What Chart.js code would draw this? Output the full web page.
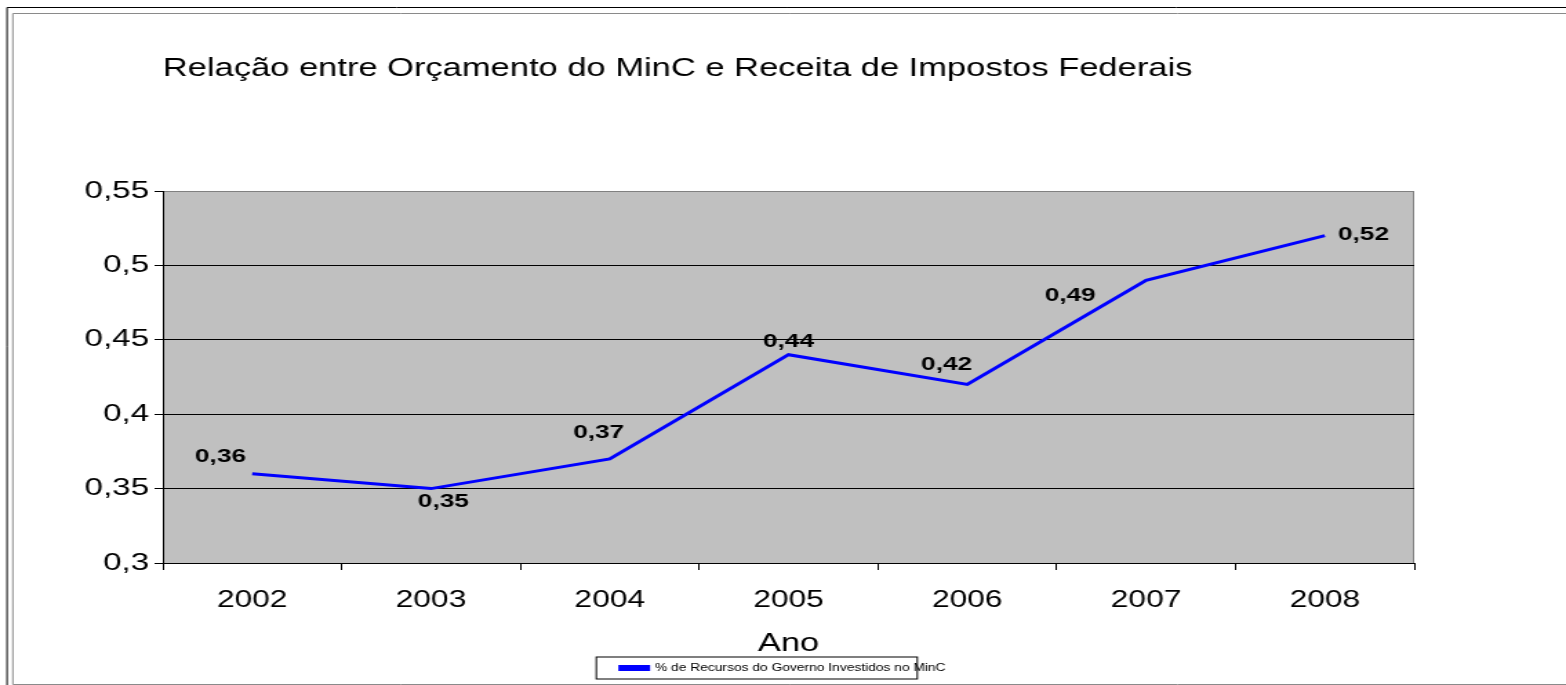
<!DOCTYPE html>
<html>
<head>
<meta charset="utf-8">
<script src="https://cdn.jsdelivr.net/npm/chart.js@4.4.1/dist/chart.umd.min.js"></script>
<style>
  html, body { margin: 0; padding: 0; background: #fff; overflow: hidden; }
</style>
</head>
<body>
<!-- the original picture is stretched sideways, so the canvas is too -->
<canvas id="chart" width="1135" height="685" style="display:block;width:1566px;height:685px"></canvas>
<script>
const years = ["2002", "2003", "2004", "2005", "2006", "2007", "2008"];
const percentMinC = [0.36, 0.35, 0.37, 0.44, 0.42, 0.49, 0.52];
const yTickLabels = ["0,3", "0,35", "0,4", "0,45", "0,5", "0,55"];
const seriesName = "% de Recursos do Governo Investidos no MinC";

// where each value label sits relative to its point
const labelOffsets = [[-23, -17], [9, 13], [-8, -26], [0, -13], [-15, -20], [-55, 15], [28, -1]];

Chart.defaults.font.family = "'Liberation Sans', Arial, sans-serif";
Chart.defaults.color = "#000";

const framePlugin = {
  id: "frame",
  beforeDraw(chart) {
    const ctx = chart.ctx;
    const a = chart.chartArea;
    ctx.save();
    ctx.fillStyle = "#fff";
    ctx.fillRect(0, 0, chart.width, chart.height);
    // double border round the chart
    ctx.lineWidth = 1;
    ctx.strokeStyle = "#000";
    ctx.beginPath();
    ctx.moveTo(5.1, chart.height);
    ctx.lineTo(5.1, 7.5);
    ctx.lineTo(chart.width, 7.5);
    ctx.stroke();
    ctx.strokeStyle = "#8a8a8a";
    ctx.beginPath();
    ctx.moveTo(chart.width, 13.5);
    ctx.lineTo(9.3, 13.5);
    ctx.lineTo(9.3, 684.5);
    ctx.lineTo(chart.width, 684.5);
    ctx.stroke();
    // grey plot area
    ctx.fillStyle = "#c0c0c0";
    ctx.fillRect(a.left, a.top, a.right - a.left, a.bottom - a.top);
    ctx.strokeStyle = "#808080";
    ctx.beginPath();
    ctx.moveTo(a.right - 0.5, a.top);
    ctx.lineTo(a.right - 0.5, a.bottom);
    ctx.stroke();
    ctx.restore();
  },
  afterDraw(chart) {
    // box round the legend, offset like in the original
    const hb = chart.legend.legendHitBoxes[0];
    if (!hb) return;
    const ctx = chart.ctx;
    const cy = hb.top + hb.height / 2;
    ctx.save();
    ctx.strokeStyle = "#000";
    ctx.lineWidth = 1;
    ctx.strokeRect(hb.left - 17.5, cy - 11, hb.width - 3, 22);
    ctx.restore();
  }
};

const valueLabels = {
  id: "valueLabels",
  afterDatasetsDraw(chart) {
    const ctx = chart.ctx;
    const meta = chart.getDatasetMeta(0);
    ctx.save();
    ctx.font = "bold 19px 'Liberation Sans', Arial, sans-serif";
    ctx.fillStyle = "#000";
    ctx.textAlign = "center";
    ctx.textBaseline = "middle";
    meta.data.forEach((pt, i) => {
      const txt = percentMinC[i].toFixed(2).replace(".", ",");
      ctx.fillText(txt, pt.x + labelOffsets[i][0], pt.y + labelOffsets[i][1]);
    });
    ctx.restore();
  }
};

new Chart(document.getElementById("chart"), {
  type: "line",
  data: {
    labels: years,
    datasets: [
      {
        label: seriesName,
        data: percentMinC,
        borderColor: "#0000ff",
        backgroundColor: "#0000ff",
        borderWidth: 3,
        pointRadius: 0,
        tension: 0,
      },
    ],
  },
  options: {
    responsive: false,
    animation: false,
    devicePixelRatio: 1,
    layout: { padding: { top: 10, left: 10, right: 10, bottom: 2 } },
    plugins: {
      title: {
        display: true,
        text: "Relação entre Orçamento do MinC e Receita de Impostos Federais",
        align: "start",
        fullSize: false,
        font: { size: 25, weight: "normal" },
        color: "#000",
        padding: { top: 44, bottom: 107 },
      },
      legend: {
        display: true,
        position: "bottom",
        labels: {
          font: { size: 10 },
          boxWidth: 20,
          boxHeight: 3,
          padding: 6,
          color: "#000",
        },
      },
      tooltip: { enabled: false },
    },
    scales: {
      x: {
        offset: true,
        afterFit(scale) {
          scale.height = 94;
        },
        grid: {
          offset: true,
          drawOnChartArea: false,
          drawTicks: true,
          tickLength: 7,
          color: "#000",
          tickColor: "#000",
        },
        border: { color: "#000", width: 1 },
        ticks: { font: { size: 23 }, color: "#000", padding: 17 },
        title: {
          display: true,
          text: "Ano",
          font: { size: 25, lineHeight: 1.05 },
          color: "#000",
          padding: { top: 0, bottom: 0 },
        },
      },
      y: {
        min: 0.3,
        max: 0.55,
        afterFit(scale) {
          scale.width = 108;
        },
        ticks: {
          stepSize: 0.05,
          font: { size: 24 },
          color: "#000",
          padding: 4,
          callback: (v, i) => yTickLabels[i],
        },
        grid: {
          color: (c) => (c.index === yTickLabels.length - 1 ? "#808080" : "#000"),
          tickColor: "#000",
          tickLength: 6,
        },
        border: { color: "#000", width: 1 },
      },
      // empty space to the right of the plot, as in the original
      yRight: {
        position: "right",
        afterFit(scale) {
          scale.width = 100;
        },
        ticks: { display: false },
        grid: { display: false },
        border: { display: false },
      },
    },
  },
  plugins: [framePlugin, valueLabels],
});
</script>
</body>
</html>
